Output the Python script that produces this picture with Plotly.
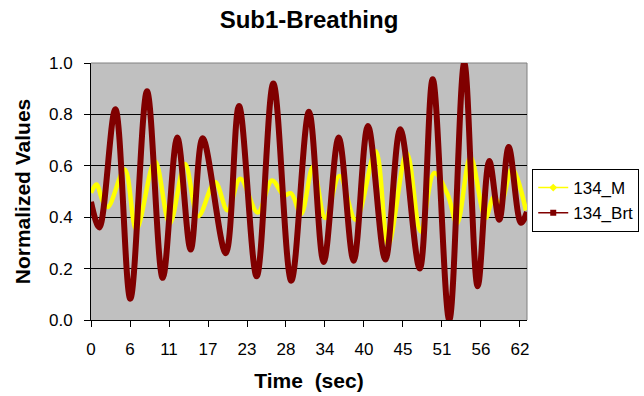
import plotly.graph_objects as go

# Breathing traces, normalized; time in seconds
brt_time = [0.0, 1.20, 3.52, 5.69, 8.11, 10.38, 12.49, 14.43, 16.17, 19.50,
            21.42, 23.98, 26.39, 28.99, 31.55, 33.68, 35.85, 38.02, 40.09,
            42.60, 44.77, 47.58, 49.46, 51.86, 54.03, 55.97, 57.65, 59.10,
            60.46, 62.24, 63.11]
brt_vals = [0.46, 0.36, 0.82, 0.083, 0.89, 0.164, 0.71, 0.274, 0.707, 0.26,
            0.833, 0.17, 0.92, 0.153, 0.81, 0.226, 0.71, 0.231, 0.755,
            0.235, 0.742, 0.20, 0.937, 0.0, 1.0, 0.131, 0.619, 0.39,
            0.673, 0.378, 0.42]

m_time = [0.0, 0.80, 1.74, 2.46, 4.88, 6.56, 9.26, 11.39, 13.61, 15.53,
          17.95, 19.76, 21.61, 24.14, 26.20, 27.93, 28.95, 30.40, 32.13,
          33.90, 35.97, 38.31, 41.21, 43.02, 45.71, 47.72, 49.69, 51.63,
          52.98, 54.93, 57.10, 58.30, 59.27, 60.94, 62.96]
m_vals = [0.495, 0.527, 0.46, 0.44, 0.586, 0.352, 0.618, 0.375, 0.607, 0.404,
          0.537, 0.427, 0.55, 0.418, 0.543, 0.485, 0.493, 0.413, 0.596,
          0.397, 0.56, 0.39, 0.657, 0.293, 0.65, 0.344, 0.572, 0.488,
          0.375, 0.635, 0.397, 0.478, 0.452, 0.588, 0.426]

# category labels shown along the time axis (every 10th sample)
time_labels = ["0", "6", "11", "17", "23", "28", "34", "40", "45", "51", "56", "62"]
label_step = 5.645
y_ticks = [0.0, 0.2, 0.4, 0.6, 0.8, 1.0]

series = [
    ("134_M", m_time, m_vals, "#FFFF00", 4.5, "diamond"),
    ("134_Brt", brt_time, brt_vals, "#800000", 6, "square"),
]

FONT = "Liberation Sans, Arial, sans-serif"

fig = go.Figure()
for name, t, v, color, width, symbol in series:
    # the thick curve itself
    fig.add_trace(go.Scatter(
        x=t, y=v, name=name, mode="lines", showlegend=False,
        legendgroup=name,
        line=dict(color=color, width=width, shape="spline", smoothing=1.0),
    ))
    # legend key: thin line with marker
    fig.add_trace(go.Scatter(
        x=[None], y=[None], name=name, mode="lines+markers",
        legendgroup=name,
        line=dict(color=color, width=1.5),
        marker=dict(symbol=symbol, size=6, color=color),
    ))

# grey frame on the top and right of the plotting area
for x0, y0, x1, y1 in [(0, 1, 1, 1), (1, 0, 1, 1)]:
    fig.add_shape(type="line", xref="x domain", yref="y domain",
                  x0=x0, y0=y0, x1=x1, y1=y1,
                  line=dict(color="#808080", width=1), layer="below")

fig.update_layout(
    width=644, height=396,
    margin=dict(l=91, r=117, t=63, b=76, autoexpand=False),
    paper_bgcolor="white",
    plot_bgcolor="#C0C0C0",
    font=dict(family=FONT, color="black", size=17),
    title=dict(text="<b>Sub1-Breathing</b>", x=0.5, xref="paper",
               y=1 - 20 / 396, yref="container", yanchor="middle",
               font=dict(size=24)),
    showlegend=True,
    legend=dict(x=1.012, xanchor="left", y=0.5875, yanchor="top",
                bgcolor="white", bordercolor="black", borderwidth=1,
                font=dict(size=17), itemwidth=30, tracegroupgap=0),
)

fig.update_xaxes(
    range=[0, 63.11],
    tickmode="array",
    tickvals=[i * label_step for i in range(len(time_labels))],
    ticktext=time_labels,
    ticks="outside", ticklen=6, tickcolor="black", tickfont=dict(size=17),
    ticklabelstandoff=8,
    showgrid=False, zeroline=False,
    showline=True, linecolor="black", linewidth=1,
    title=dict(text="<b>Time  (sec)</b>", font=dict(size=21), standoff=14),
)
fig.update_yaxes(
    range=[0, 1.0],
    tickmode="array", tickvals=y_ticks,
    ticktext=[f"{v:.1f}" for v in y_ticks],
    ticks="outside", ticklen=6, tickcolor="black", tickfont=dict(size=17),
    ticklabelstandoff=8,
    showgrid=True, gridcolor="black", gridwidth=1, zeroline=False,
    showline=True, linecolor="black", linewidth=1,
    title=dict(text="<b>Normalized Values</b>", font=dict(size=21), standoff=12),
)

fig.write_html("out.html")
